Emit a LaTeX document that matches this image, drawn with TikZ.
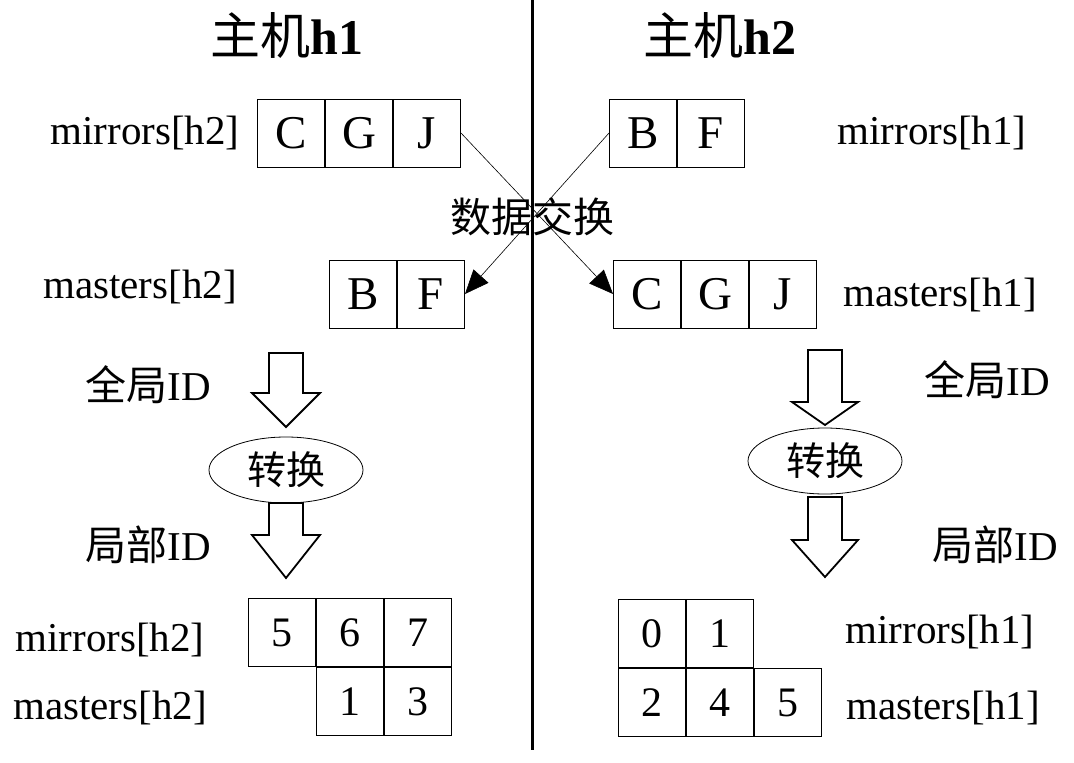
\documentclass[tikz,border=0pt]{standalone}
\usepackage{fontspec}
\setmainfont{Liberation Serif}
\newfontfamily\cjk{Noto Sans CJK SC}
\usetikzlibrary{positioning,arrows.meta,shapes.geometric}

\begin{document}
\begin{tikzpicture}[x=1pt, y=-1pt,
    cell/.style={draw, line width=1pt, minimum width=67pt, minimum height=68pt, inner sep=0pt, text height=31pt, text depth=0pt, font=\fontsize{47}{47}\selectfont},
    num/.style={cell, text height=29pt, font=\fontsize{42}{42}\selectfont},
    lbl/.style={font=\fontsize{41}{41}\selectfont},
    zh/.style={font=\fontsize{41}{41}\selectfont\cjk},
    conv/.style={draw, line width=0.8pt, ellipse, minimum width=154pt, minimum height=66pt, inner sep=0pt, font=\fontsize{39}{39}\selectfont\cjk},
    blk/.style={draw, line width=1.8pt, line join=miter, fill=white},
    xfer/.style={-{Triangle[length=24pt,width=20pt]}, line width=0.6pt}]
    \useasboundingbox (0,0) rectangle (1074,763);

    % divider
    \coordinate (divtop) at (532,0);
    \coordinate (divbot) at (532,750);
    \draw[line width=3pt] (divtop) -- (divbot);

    \node[font=\fontsize{50}{50}\selectfont] (host1) at (287,35) {{\cjk 主机}\textbf{h1}};
    \node[font=\fontsize{50}{50}\selectfont] (host2) at (720,35) {{\cjk 主机}\textbf{h2}};

    % before exchange
    \node[cell] (mc) at (291,133) {C};
    \node[cell, right=0pt of mc] (mg) {G};
    \node[cell, right=0pt of mg] (mj) {J};
    \node[cell] (rb) at (643,133) {B};
    \node[cell, right=0pt of rb] (rf) {F};
    \node[lbl] (mir2) at (145,133) {mirrors[h2]};
    \node[lbl] (mir1) at (932,133) {mirrors[h1]};

    % after exchange
    \node[cell] (sb) at (363,294) {B};
    \node[cell, right=0pt of sb] (sf) {F};
    \node[cell] (tc) at (647,294) {C};
    \node[cell, right=0pt of tc] (tg) {G};
    \node[cell, right=0pt of tg] (tj) {J};
    \node[lbl] (mas2) at (140,287) {masters[h2]};
    \node[lbl] (mas1) at (940,295) {masters[h1]};

    \draw[xfer] (mj.east) -- (tc.west);
    \draw[xfer] (rb.west) -- (sf.east);
    \node[zh] (swap) at (532,217) {数据交换};

    % id conversion
    \node[conv] (conv1) at (286,470) {转换};
    \node[conv] (conv2) at (825,461) {转换};
    \draw[blk] (269,353) -- (269,393) -- (252,393) -- (286,427) -- (320,393) -- (303,393) -- (303,353) -- cycle;
    \draw[blk] (269,503) -- (269,535) -- (252,535) -- (286,578) -- (320,535) -- (303,535) -- (303,503) -- cycle;
    \draw[blk] (808,350) -- (808,402) -- (792,402) -- (825,425) -- (858,402) -- (842,402) -- (842,350) -- cycle;
    \draw[blk] (808,497) -- (808,540) -- (792,540) -- (825,577) -- (858,540) -- (842,540) -- (842,497) -- cycle;
    \node[lbl] (glob1) at (148,385) {{\cjk 全局}ID};
    \node[lbl] (loc1) at (148,545) {{\cjk 局部}ID};
    \node[lbl] (glob2) at (987,380) {{\cjk 全局}ID};
    \node[lbl] (loc2) at (995,545) {{\cjk 局部}ID};

    % local ids
    \node[num] (l5) at (282,632) {5};
    \node[num, right=0pt of l5] (l6) {6};
    \node[num, right=0pt of l6] (l7) {7};
    \node[num, below=0pt of l6] (l1) {1};
    \node[num, below=0pt of l7] (l3) {3};
    \node[lbl] (bmir2) at (110,640) {mirrors[h2]};
    \node[lbl] (bmas2) at (110,708) {masters[h2]};

    \node[num] (r0) at (652,633) {0};
    \node[num, right=0pt of r0] (r1) {1};
    \node[num, below=0pt of r0] (r2) {2};
    \node[num, right=0pt of r2] (r4) {4};
    \node[num, right=0pt of r4] (r5) {5};
    \node[lbl] (bmir1) at (940,632) {mirrors[h1]};
    \node[lbl] (bmas1) at (943,708) {masters[h1]};
\end{tikzpicture}
\end{document}
